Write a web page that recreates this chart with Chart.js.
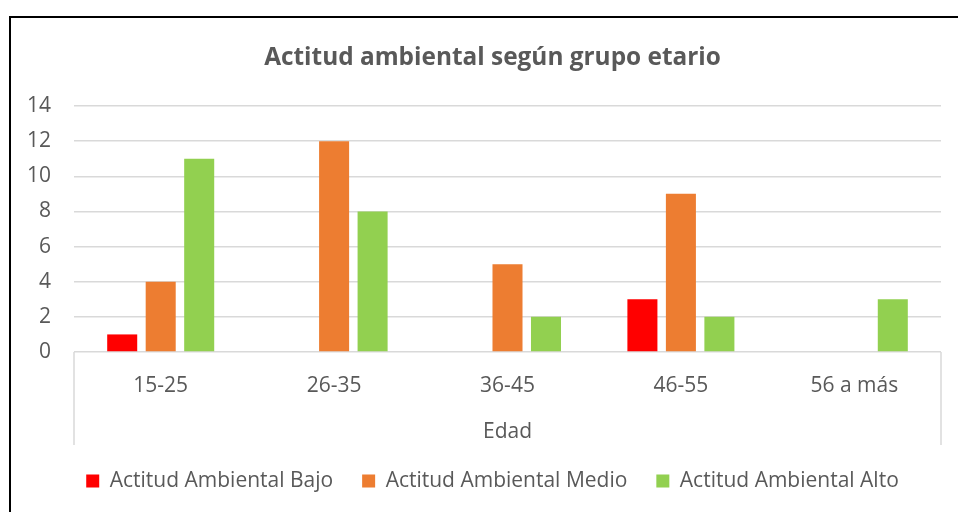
<!DOCTYPE html>
<html>
<head>
<meta charset="utf-8">
<script src="https://cdn.jsdelivr.net/npm/chart.js@4.4.1/dist/chart.umd.min.js"></script>
<style>
  html, body { margin: 0; padding: 0; background: #fff; overflow: hidden; width: 958px; height: 512px; }
  #frame { position: absolute; left: 9px; top: 16px; width: 1000px; height: 600px; border: 2px solid #000; box-sizing: border-box; }
  #wrap { position: absolute; left: 0; top: 0; width: 980px; height: 512px; }
</style>
</head>
<body>
<div id="frame"></div>
<div id="wrap"><canvas id="c" width="980" height="512"></canvas></div>
<script>
const categories = ["15-25", "26-35", "36-45", "46-55", "56 a más"];
const bajo  = [1, 0, 0, 3, 0];
const medio = [4, 12, 5, 9, 0];
const alto  = [11, 8, 2, 2, 3];
const seriesNames = ["Actitud Ambiental Bajo", "Actitud Ambiental Medio", "Actitud Ambiental Alto"];
const yTicks = [0, 2, 4, 6, 8, 10, 12, 14];
const chartTitle = "Actitud ambiental según grupo etario";
const xTitle = "Edad";

const FONT = "'Open Sans', Lato, sans-serif";
const TXT = "#595959";
const FS = 21;
const PAD_LEFT = 44;

const sideLines = {
  id: 'sideLines',
  afterDraw(chart) {
    const {ctx, chartArea} = chart;
    ctx.save();
    ctx.strokeStyle = '#d9d9d9';
    ctx.lineWidth = 1.5;
    ctx.beginPath();
    ctx.moveTo(chartArea.left, chartArea.bottom);
    ctx.lineTo(chartArea.left, 445);
    ctx.moveTo(chartArea.right, chartArea.bottom);
    ctx.lineTo(chartArea.right, 445);
    ctx.stroke();
    ctx.restore();
  }
};

new Chart(document.getElementById('c'), {
  type: 'bar',
  data: {
    labels: categories,
    datasets: [
      { label: seriesNames[0], data: bajo,  backgroundColor: '#FF0000' },
      { label: seriesNames[1], data: medio, backgroundColor: '#ED7D31' },
      { label: seriesNames[2], data: alto,  backgroundColor: '#92D050' }
    ]
  },
  options: {
    responsive: false,
    animation: false,
    layout: { padding: { left: PAD_LEFT, right: 39, top: 0, bottom: 10.5 } },
    datasets: { bar: { categoryPercentage: 0.666, barPercentage: 0.78 } },
    plugins: {
      title: {
        display: true, text: chartTitle, color: TXT,
        font: { family: FONT, size: 24.4, weight: 'bold' },
        padding: { top: 43, bottom: 33.7 }
      },
      legend: {
        position: 'bottom',
        labels: {
          color: TXT, font: { family: FONT, size: FS },
          boxWidth: 13, boxHeight: 13, padding: 29
        }
      },
      tooltip: { enabled: false }
    },
    scales: {
      x: {
        afterFit(scale) { scale.height = 89.5; },
        grid: { display: false },
        border: { display: false },
        ticks: { color: TXT, font: { family: FONT, size: FS }, padding: 13 },
        title: { display: true, text: xTitle, color: TXT, font: { family: FONT, size: FS }, padding: { top: 20, bottom: -3 } }
      },
      y: {
        min: 0, max: 14,
        afterFit(scale) {
          scale.width = 74 - PAD_LEFT;
          scale._computeLabelArea = function () { return undefined; };
        },
        afterBuildTicks(scale) { scale.ticks = yTicks.map(v => ({ value: v })); },
        grid: { color: '#d9d9d9', lineWidth: 1.5, drawTicks: false },
        border: { display: false },
        ticks: { color: TXT, font: { family: FONT, size: FS }, padding: 23 }
      }
    }
  },
  plugins: [sideLines]
});
</script>
</body>
</html>
